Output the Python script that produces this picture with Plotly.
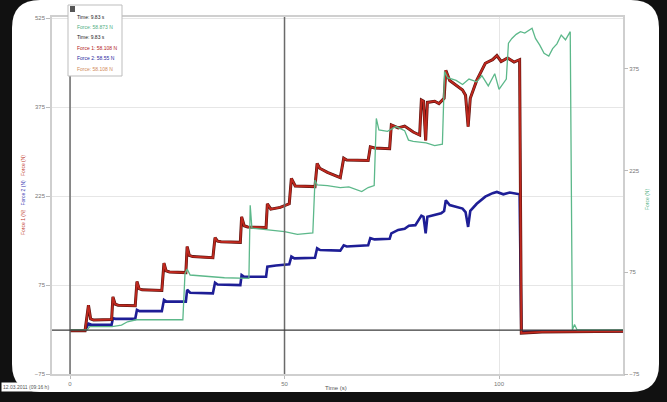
import plotly.graph_objects as go

# ---------------- data ----------------
time_f1 = [0, 3.5, 4.3, 4.8, 5.5, 9.7, 10.0, 10.5, 11.2, 15.2, 15.6, 16.1, 16.8, 21.4, 21.9, 22.4, 23.2,
           27.0, 27.3, 27.8, 28.6, 33.3, 33.8, 34.4, 35.2, 39.7, 40.0, 40.6, 41.4, 45.7, 46.0, 46.8, 49.0,
           51.1, 51.6, 52.5, 57.1, 57.6, 58.2, 60.0, 63.0, 63.8, 64.5, 69.5, 70.0, 71.0, 74.5, 74.9, 76.5,
           78.0, 80.0, 81.5, 81.9, 82.4, 82.9, 83.3, 85.0, 86.0, 87.2, 87.6, 88.5, 90.0, 91.5, 92.2, 92.8,
           93.3, 94.8, 96.8, 98.5, 99.5, 100.5, 102.0, 103.5, 104.8, 105.2, 110.0, 120.0, 128.9]
force1 = [-2, -2, 41, 18, 16, 17, 55, 43, 41, 40, 81, 69, 67, 66, 112, 99, 97,
          96, 140, 125, 123, 121, 155, 149, 148, 147, 190, 175, 173, 172, 212, 203, 206,
          212, 255, 242, 241, 280, 272, 265, 256, 289, 286, 285, 308, 306, 305, 345, 340,
          343, 333, 328, 387, 385, 319, 383, 385, 381, 390, 437, 420, 412, 404, 395, 342,
          390, 420, 449, 455, 462, 452, 458, 451, 455, -6, -4, -3, -3]

time_f2 = [0, 3.5, 4.3, 5.0, 9.7, 10.0, 10.6, 15.2, 15.6, 16.2, 21.4, 21.9, 22.5, 27.0, 27.3, 28.0,
           33.3, 33.8, 34.4, 39.7, 40.0, 40.6, 45.7, 46.0, 48.0, 51.1, 51.6, 52.3, 57.1, 57.6, 58.3,
           63.0, 63.8, 64.5, 69.5, 70.0, 71.0, 74.5, 74.9, 76.5, 78.0, 79.0, 80.5, 81.9, 82.4, 82.9,
           83.3, 85.0, 86.5, 87.2, 87.6, 88.5, 90.0, 91.5, 92.2, 92.8, 93.3, 94.8, 96.8, 98.5, 99.5,
           101.0, 102.5, 104.8, 105.2, 110.0, 120.0, 128.9]
force2 = [-2, -2, 10, 8, 8, 19, 18, 18, 33, 31, 31, 50, 47, 47, 67, 62,
          61, 79, 76, 75, 92, 89, 89, 106, 108, 110, 123, 120, 121, 137, 134,
          133, 142, 140, 142, 154, 152, 153, 162, 168, 170, 175, 176, 192, 190, 162,
          190, 193, 196, 200, 218, 210, 207, 204, 198, 173, 200, 212, 224, 230, 232,
          228, 231, 228, -4, -3, -3, -3]

time_f = [0, 4.0, 4.6, 9.8, 12.0, 13.4, 15.4, 20.0, 26.3, 26.8, 27.3, 28.0, 32.0, 36.0, 41.7, 42.0,
          42.4, 45.0, 50.0, 53.0, 56.6, 57.1, 57.6, 60.0, 63.0, 65.0, 66.5, 68.0, 69.5, 70.9, 71.4,
          72.0, 74.0, 76.0, 78.0, 78.9, 80.0, 83.0, 85.0, 86.8, 87.3, 88.0, 90.0, 91.5, 93.0, 94.8,
          96.0, 97.5, 99.0, 100.0, 101.7, 102.2, 103.0, 104.0, 105.0, 106.0, 107.7, 108.5, 109.5,
          110.5, 111.6, 112.5, 113.5, 114.5, 115.5, 116.6, 117.1, 117.6, 118.2, 128.9]
force_r = [-10, -10, -5, -5, -3, 2, 5, 5, 5, 73, 80, 71, 69, 67, 66, 174,
           140, 138, 135, 131, 133, 211, 204, 203, 200, 201, 197, 194, 200, 203, 302,
           285, 283, 290, 284, 270, 268, 266, 262, 264, 371, 362, 358, 352, 360, 356,
           365, 350, 368, 345, 360, 413, 420, 426, 430, 428, 435, 420, 410,
           398, 394, 405, 412, 425, 418, 430, -10, -2, -10, -10]

x_ticks = [0, 50, 100]
left_ticks = [-75, 75, 225, 375, 525]
right_ticks = [-75, 75, 225, 375]
cursor_times = [0, 50]
cursor_level = -1

legend_texts = ["Time: 9.83 s", "Force: 58.873 N", "Time: 9.83 s",
                "Force 1: 58.108 N", "Force 2: 58.55 N", "Force: 58.108 N"]
legend_colors = ["#222222", "#4fae7f", "#222222", "#b3241c", "#2a2aa0", "#d08a5a"]
stamp_text = "12.03.2011 (09:16 h)"

# ---------------- geometry helpers ----------------
W, H = 667, 402
L, R, T, B = 52, 44, 17, 28
PW, PH = W - L - R, H - T - B


def px(xp):
    return (xp - L) / PW


def py(yp):
    return (H - B - yp) / PH


fig = go.Figure()

# white rounded panel
x0, x1, y0, y1, r = 12, 659, 0, 392, 28
panel = (f"M {px(x0 + r)},{py(y0)} L {px(x1 - r)},{py(y0)} Q {px(x1)},{py(y0)} {px(x1)},{py(y0 + r)} "
         f"L {px(x1)},{py(y1 - r)} Q {px(x1)},{py(y1)} {px(x1 - r)},{py(y1)} "
         f"L {px(x0 + r)},{py(y1)} Q {px(x0)},{py(y1)} {px(x0)},{py(y1 - r)} "
         f"L {px(x0)},{py(y0 + r)} Q {px(x0)},{py(y0)} {px(x0 + r)},{py(y0)} Z")
fig.add_shape(type="path", path=panel, xref="paper", yref="paper",
              fillcolor="white", line=dict(width=0), layer="below")

fig.add_trace(go.Scatter(x=time_f, y=force_r, yaxis="y2", mode="lines",
                         line=dict(color="#5cb88a", width=1.3), name="Force", showlegend=False))
fig.add_trace(go.Scatter(x=time_f2, y=force2, mode="lines",
                         line=dict(color="#1e1e96", width=2.6), name="Force 2", showlegend=False))
fig.add_trace(go.Scatter(x=time_f1, y=force1, mode="lines",
                         line=dict(color="#5a1410", width=3.0), name="Force (underlay)", showlegend=False))
fig.add_trace(go.Scatter(x=time_f1, y=force1, mode="lines",
                         line=dict(color="#c0281e", width=1.8), name="Force 1", showlegend=False))

# cursors
for i, t in enumerate(cursor_times):
    fig.add_shape(type="line", xref="x", yref="paper", x0=t, x1=t, y0=0,
                  y1=py(5) if i == 0 else 1, line=dict(color="#6a6a6a", width=1.5))
fig.add_shape(type="line", xref="paper", yref="y", x0=0, x1=1, y0=cursor_level, y1=cursor_level,
              line=dict(color="#3a3a3a", width=1.3))

# legend box
fig.add_shape(type="rect", xref="paper", yref="paper", x0=px(68), x1=px(122), y0=py(76), y1=py(5),
              fillcolor="white", line=dict(color="#bdbdbd", width=1))
fig.add_shape(type="rect", xref="paper", yref="paper", x0=px(70), x1=px(75), y0=py(12), y1=py(6),
              fillcolor="#555555", line=dict(width=0))
legend_y = [17, 27, 37, 48, 58, 69]
for txt, col, yy in zip(legend_texts, legend_colors, legend_y):
    fig.add_annotation(x=px(75), y=py(yy), xref="paper", yref="paper", text=txt, showarrow=False,
                       xanchor="left", yanchor="middle", font=dict(size=5, color=col))

# axis titles
fig.add_annotation(x=px(18), y=py(195), xref="paper", yref="paper", textangle=-90, showarrow=False,
                   text=('<span style="color:#c0392b">Force 1 (N)</span>   '
                         '<span style="color:#3535b0">Force 2 (N)</span>   '
                         '<span style="color:#c0392b">Force (N)</span>'),
                   font=dict(size=5))
fig.add_annotation(x=px(652), y=py(200), xref="paper", yref="paper", textangle=-90, showarrow=False,
                   text="Force (N)", font=dict(size=5, color="#4fae7f"))
fig.add_annotation(x=px(336), y=py(393), xref="paper", yref="paper", showarrow=False,
                   text="Time (s)", font=dict(size=6, color="#555555"))
fig.add_annotation(x=px(1), y=py(392), xref="paper", yref="paper", showarrow=False, xanchor="left",
                   text=stamp_text, font=dict(size=5, color="#555555"), bgcolor="white")

axis_font = dict(size=6, color="#777777", family="Liberation Sans")
fig.update_layout(
    width=W, height=H,
    margin=dict(l=L, r=R, t=T, b=B, pad=0, autoexpand=False),
    paper_bgcolor="#111111", plot_bgcolor="white",
    showlegend=False,
    font=dict(family="Liberation Sans"),
    xaxis=dict(range=[-4.2, 128.9], tickvals=x_ticks, showgrid=True, gridcolor="#e6e6e6",
               zeroline=False, showline=True, mirror=True, linecolor="#cfcfcf", linewidth=1.5,
               ticks="outside", ticklen=3, tickcolor="#bbbbbb", tickfont=axis_font, automargin=False),
    yaxis=dict(range=[-75, 527], tickvals=left_ticks, showgrid=True, gridcolor="#e6e6e6",
               zeroline=False, showline=True, mirror=True, linecolor="#cfcfcf", linewidth=1.5,
               ticks="outside", ticklen=4, tickcolor="#bbbbbb", tickfont=axis_font, automargin=False),
    yaxis2=dict(range=[-75, 451.6], tickvals=right_ticks, overlaying="y", side="right",
                showgrid=False, zeroline=False, showline=False, automargin=False,
                ticks="outside", ticklen=4, tickcolor="#bbbbbb", tickfont=axis_font),
)

fig.write_html("out.html", config={"displayModeBar": False},
               post_script="document.body.style.margin='0';document.body.style.background='#111111';")
